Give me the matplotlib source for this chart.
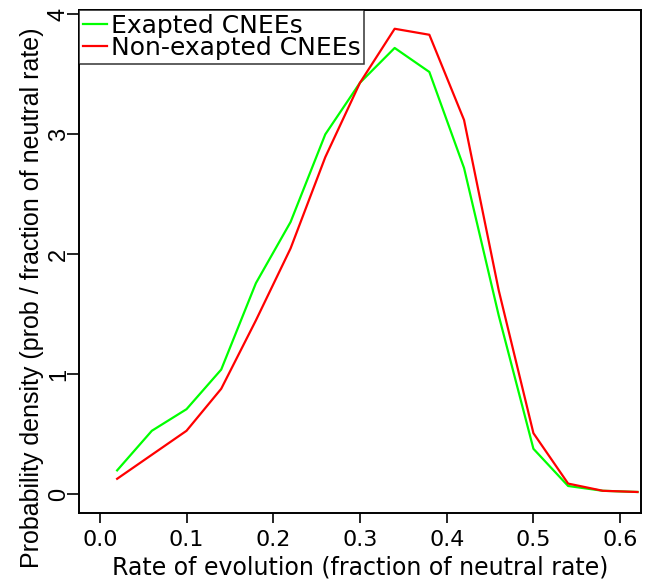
import matplotlib
matplotlib.use("Agg")
import matplotlib.pyplot as plt

plt.rcParams["font.family"] = ["DejaVu Sans"]

# rate bins (fraction of neutral rate)
rate = [0.02, 0.06, 0.10, 0.14, 0.18, 0.22, 0.26, 0.30,
        0.34, 0.38, 0.42, 0.46, 0.50, 0.54, 0.58, 0.62]

# densities
exapted = [0.20, 0.53, 0.71, 1.04, 1.76, 2.27, 3.00, 3.43,
           3.72, 3.52, 2.72, 1.49, 0.38, 0.07, 0.03, 0.02]
non_exapted = [0.13, 0.33, 0.53, 0.88, 1.45, 2.05, 2.81, 3.43,
               3.88, 3.83, 3.12, 1.70, 0.51, 0.09, 0.03, 0.02]

labels = ["Exapted CNEEs", "Non-exapted CNEEs"]
xticks = [0.0, 0.1, 0.2, 0.3, 0.4, 0.5, 0.6]
yticks = [0, 1, 2, 3, 4]

fig = plt.figure(figsize=(6.5, 5.84), dpi=100)
ax = fig.add_axes([0.1215, 0.1216, 0.8646, 0.861])

ax.plot(rate, exapted, color="#00ff00", lw=1.6, label=labels[0])
ax.plot(rate, non_exapted, color="#ff0000", lw=1.6, label=labels[1])

ax.set_xlim(-0.024, 0.624)
ax.set_ylim(-0.155, 4.035)
ax.set_xticks(xticks)
ax.set_xticklabels([f"{t:.1f}" for t in xticks], fontsize=16)
ax.set_yticks(yticks)
# R style: y labels parallel to the axis
ax.set_yticklabels([str(t) for t in yticks], rotation=90, rotation_mode="anchor",
                   ha="center", va="baseline",
                   family="Liberation Sans", fontsize=17)

ax.tick_params(direction="out", width=1.2)
ax.tick_params(axis="x", length=7.2, pad=5)
ax.tick_params(axis="y", length=8.6, pad=1.5)
for sp in ax.spines.values():
    sp.set_linewidth(1.4)

ax.set_xlabel("Rate of evolution (fraction of neutral rate)", fontsize=17)
ax.xaxis.set_label_coords(0.5, -0.085)
ax.xaxis.label.set_va("top")
ax.set_ylabel("Probability density (prob / fraction of neutral rate)",
              family="Liberation Sans", fontsize=18)
ax.yaxis.set_label_coords(-0.063, 0.428)

leg = ax.legend(loc="upper left", borderaxespad=0, fancybox=False,
                edgecolor="black", fontsize=18, handlelength=0.97,
                handletextpad=0.16, labelspacing=-0.08, borderpad=0.15)
leg.get_frame().set_linewidth(1.1)

fig.savefig("out.png", dpi=100)
